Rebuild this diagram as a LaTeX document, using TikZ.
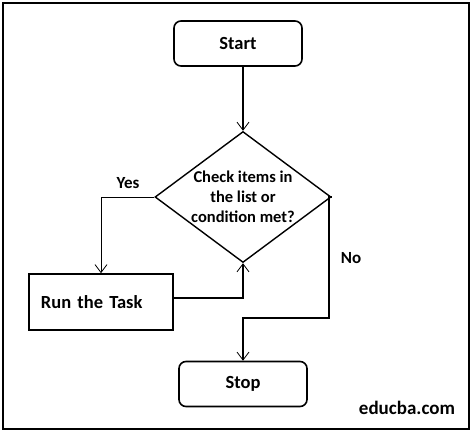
\documentclass[tikz,border=0pt]{standalone}
\usepackage{fontspec}
\setmainfont{Carlito}
\usetikzlibrary{shapes.geometric,arrows.meta}

\begin{document}
\begin{tikzpicture}[x=1pt, y=-1pt, font=\bfseries\fontsize{17}{20}\selectfont,
  big/.style={font=\bfseries\fontsize{18.5}{22}\selectfont},
  terminal/.style={draw, big, line width=1.6pt, rounded corners=7pt, minimum width=128pt, minimum height=45pt},
  taskbox/.style={draw, big, line width=1.6pt, minimum width=144pt, minimum height=56pt, text width=120pt, inner xsep=12pt, align=left},
  decision/.style={draw, diamond, line width=1.4pt, inner sep=0pt, minimum width=176pt, minimum height=131pt},
  flow/.style={line width=1.4pt, -{Straight Barb[length=8pt,width=12pt,line width=0.8pt]}}]
  \useasboundingbox (0,0) rectangle (472,432);
  \draw[line width=1.2pt] (3,3) rectangle (469,429);
  \node[terminal] (start) at (238,43.5) {Start};
  \node[decision] (check) at (243,197) {};
  \node[align=center, font=\bfseries\fontsize{16.5}{20}\selectfont] (checktext) at (check.center) {Check items in\\the list or\\condition met?};
  \node[taskbox] (task) at (101,302) {Run the Task};
  \node[terminal] (stop) at (243,384) {Stop};
  \node (yes) at (128,183) {Yes};
  \node (no) at (351,258) {No};
  \node[font=\bfseries\fontsize{19}{22}\selectfont] (logo) at (407,408) {educba.com};
  % connectors
  \draw[flow] (start.south -| check.north) -- (check.north);
  \draw[flow, line width=0.8pt] (check.west) -| (task.north);
  \draw[flow] (task.east |- 0,298) -| (check.south);
  \draw[flow] (check.east) -- (329,197) |- (243,318) -- (stop.north);
\end{tikzpicture}
\end{document}
